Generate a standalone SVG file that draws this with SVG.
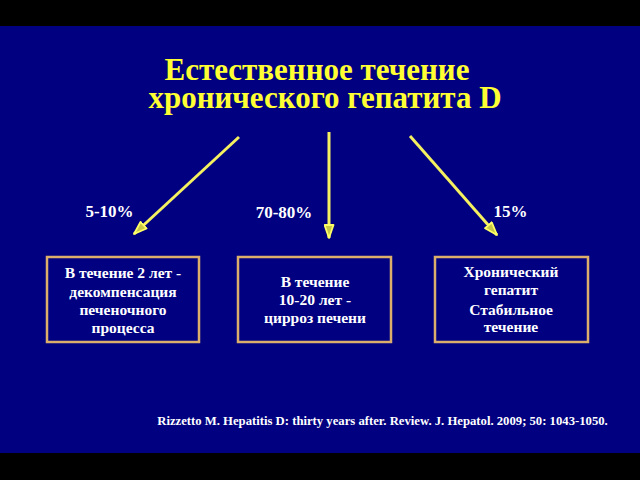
<svg xmlns="http://www.w3.org/2000/svg" width="640" height="480" viewBox="0 0 640 480">
<defs>
<marker id="ah" viewBox="0 0 15 11" refX="14" refY="5.5" markerWidth="15" markerHeight="11" orient="auto" markerUnits="userSpaceOnUse">
<path d="M1,1 L14,5.5 L1,10 Z" fill="#c8c848" stroke="#ffff66" stroke-width="1.8" stroke-linejoin="round"/>
</marker>
<style>
.t{font-family:"Liberation Serif","Times New Roman",serif;font-weight:bold;text-anchor:middle}
.title{font-size:31px;fill:#ffff33}
.lbl{font-size:17px;fill:#ffffff}
.bx{font-size:15.5px;fill:#ffffff}
.box{fill:#000080;stroke:#dcae6c;stroke-width:2.5}
.arr{stroke:#f4f060;stroke-width:3;fill:none;marker-end:url(#ah)}
</style>
</defs>
<rect x="0" y="0" width="640" height="480" fill="#000000"/>
<rect x="0" y="26" width="640" height="427" fill="#000080"/>
<g id="title">
<text class="t title" x="317" y="80">Естественное течение</text>
<text class="t title" x="325" y="108">хронического гепатита D</text>
</g>
<g id="connectors">
<line class="arr" x1="239" y1="137" x2="134" y2="234"/>
<line class="arr" x1="329" y1="132" x2="329" y2="238"/>
<line class="arr" x1="410" y1="136" x2="497" y2="235"/>
<text class="t lbl" x="109.5" y="217">5-10%</text>
<text class="t lbl" x="284" y="218">70-80%</text>
<text class="t lbl" x="510.5" y="217">15%</text>
</g>
<g id="box1">
<rect class="box" x="47" y="257" width="152" height="85"/>
<text class="t bx" x="123" y="278">В течение 2 лет -</text>
<text class="t bx" x="123" y="297">декомпенсация</text>
<text class="t bx" x="123" y="315">печеночного</text>
<text class="t bx" x="123" y="333">процесса</text>
</g>
<g id="box2">
<rect class="box" x="238" y="257" width="153" height="85"/>
<text class="t bx" x="315" y="287">В течение</text>
<text class="t bx" x="315" y="305">10-20 лет -</text>
<text class="t bx" x="315" y="323">цирроз печени</text>
</g>
<g id="box3">
<rect class="box" x="435" y="257" width="153" height="85"/>
<text class="t bx" x="511" y="277">Хронический</text>
<text class="t bx" x="511" y="295">гепатит</text>
<text class="t bx" x="511" y="315">Стабильное</text>
<text class="t bx" x="511" y="332">течение</text>
</g>
<g id="ref">
<text class="t" x="382.5" y="425" style="font-size:12.7px;fill:#ffffff">Rizzetto M. Hepatitis D: thirty years after. Review. J. Hepatol. 2009; 50: 1043-1050.</text>
</g>
</svg>
